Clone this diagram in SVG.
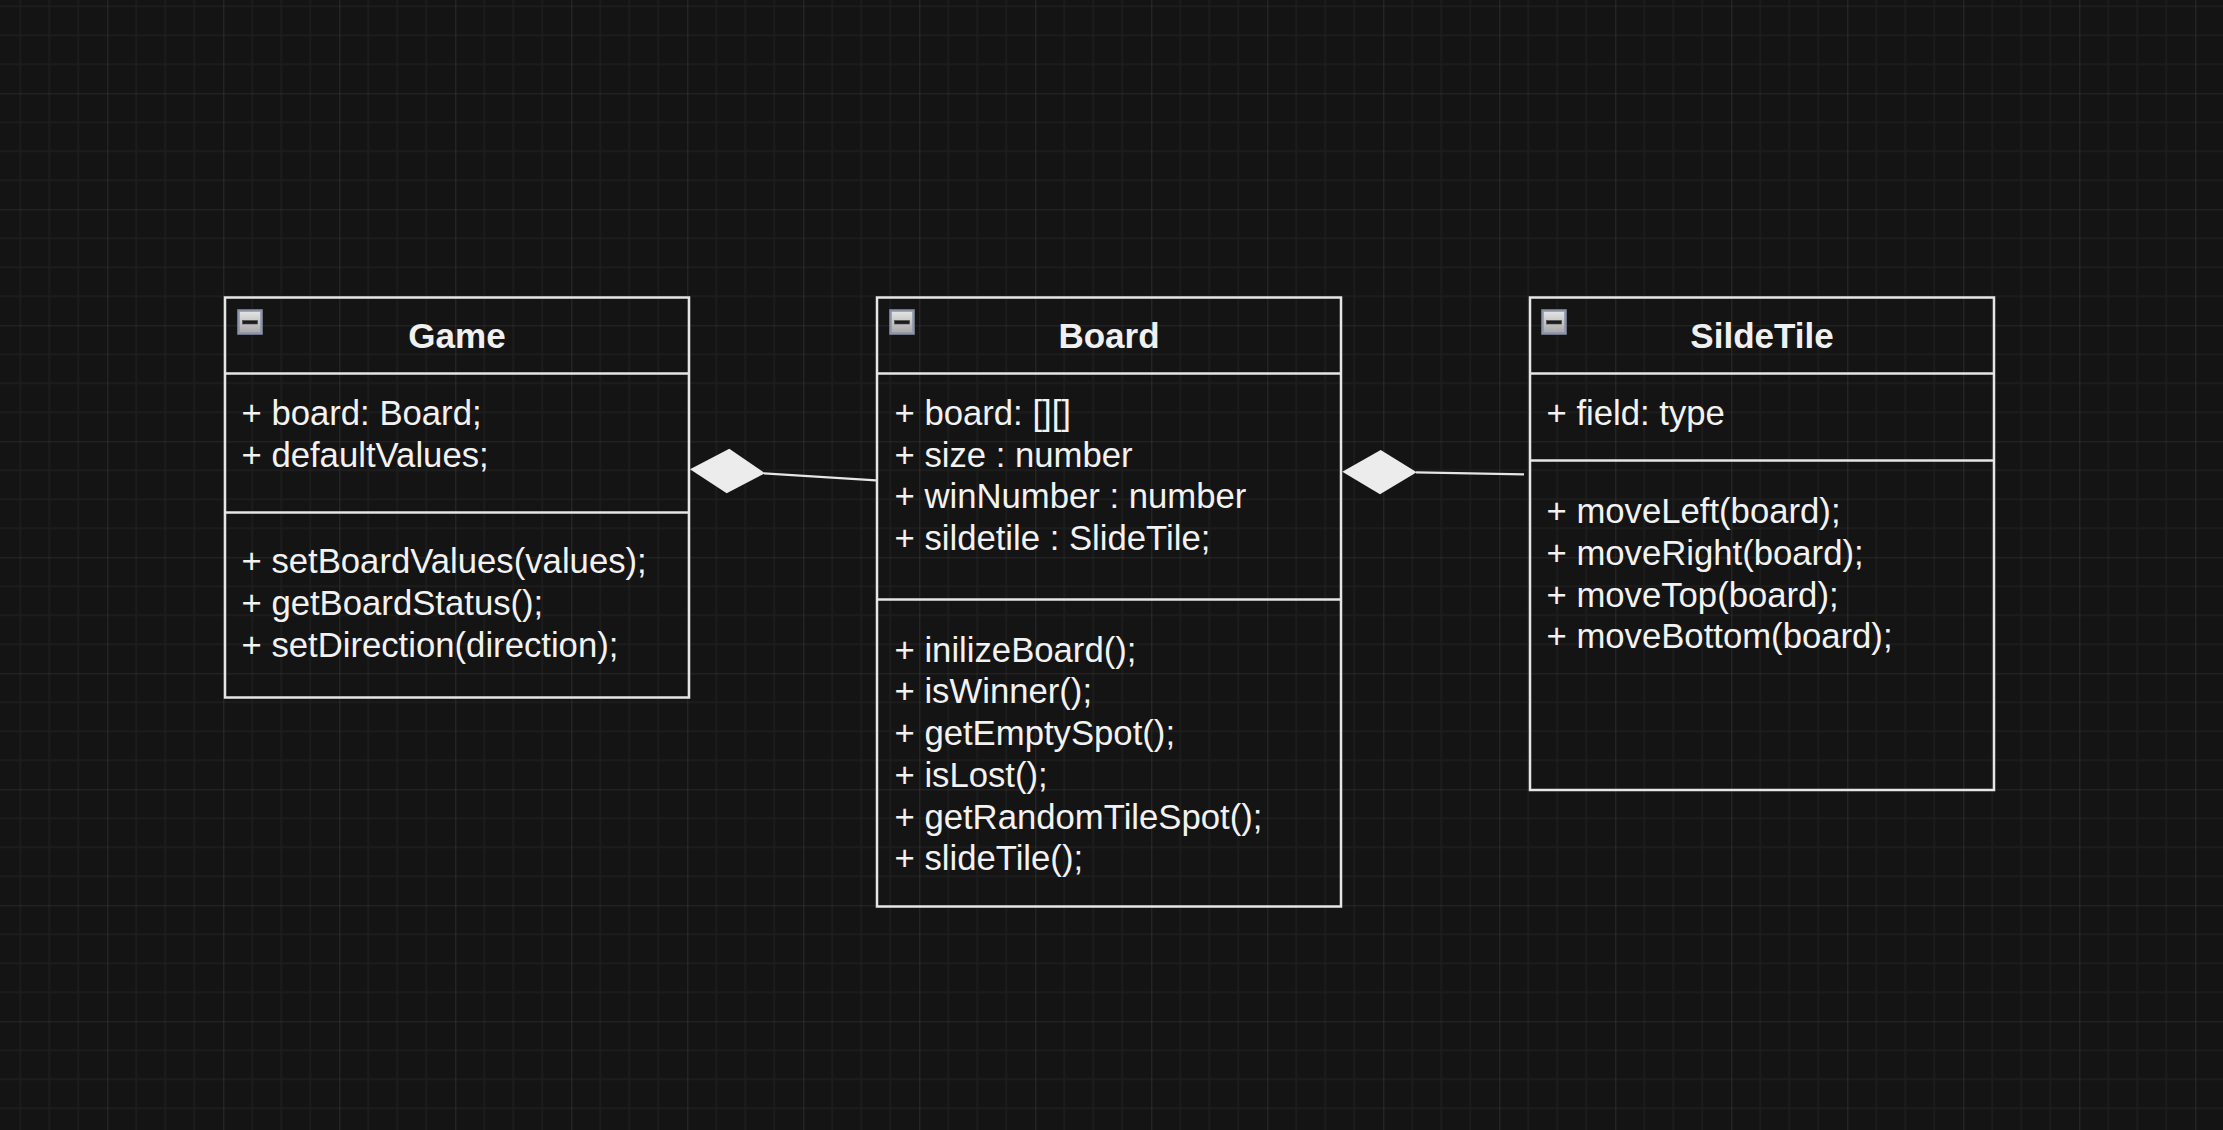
<svg xmlns="http://www.w3.org/2000/svg" width="2223" height="1130" viewBox="0 0 2223 1130">
  <style>
    .box { fill: none; stroke: #e6e6e6; stroke-width: 2.5; }
    .div { stroke: #e6e6e6; stroke-width: 2.5; }
    .title { font-family: "Liberation Sans", Arial, Helvetica, sans-serif; font-size: 35px; font-weight: bold; fill: #f0f0f0; text-anchor: middle; }
    .body { font-family: "Liberation Sans", Arial, Helvetica, sans-serif; font-size: 34.7px; fill: #f2f2f2; }
    .conn { stroke: #e6e6e6; stroke-width: 2.2; fill: none; }
    .dia { fill: #ececec; stroke: none; }
    .icon { stroke: #8c94a8; stroke-width: 2.5; fill: url(#iconGrad); }
    .minus { fill: #1c1c1c; stroke: #4a4a4a; stroke-width: 0.6; }
  </style>
  <defs>
    <pattern id="grid" x="107.3" y="93.3" width="116" height="116" patternUnits="userSpaceOnUse">
      <path d="M29 0V116M58 0V116M87 0V116M0 29H116M0 58H116M0 87H116" stroke="#1e1e1e" stroke-width="1.6" fill="none"/>
      <path d="M0 0V116M0 0H116" stroke="#3a3a3a" stroke-width="1.2" fill="none"/>
    </pattern>
    <linearGradient id="iconGrad" x1="0" y1="0" x2="0" y2="1">
      <stop offset="0" stop-color="#e6e6e6"/>
      <stop offset="1" stop-color="#a6a6a6"/>
    </linearGradient>
    <g id="collapse">
      <rect class="icon" x="0" y="0" width="23" height="23"/>
      <rect class="minus" x="4" y="10" width="15" height="3.5"/>
    </g>
  </defs>

  <rect x="0" y="0" width="2223" height="1130" fill="#141414"/>
  <rect x="0" y="0" width="2223" height="1130" fill="url(#grid)"/>

  <g id="connectors">
    <line class="conn" x1="764" y1="473.3" x2="876" y2="480.3"/>
    <polygon class="dia" points="690,469.3 729.3,448.7 765,473.3 726.7,493.3"/>
    <line class="conn" x1="1416" y1="472.4" x2="1524" y2="474.3"/>
    <polygon class="dia" points="1342.3,471.7 1380.7,450 1416.7,472.3 1380,494.3"/>
  </g>

  <g id="node-game">
    <rect class="box" x="225" y="297.5" width="464" height="400"/>
    <line class="div" x1="225" y1="373.5" x2="689" y2="373.5"/>
    <line class="div" x1="225" y1="512.5" x2="689" y2="512.5"/>
    <use href="#collapse" x="238.5" y="310.5"/>
    <text class="title" x="457" y="348">Game</text>
    <text class="body">
      <tspan x="241.5" y="425">+ board: Board;</tspan>
      <tspan x="241.5" y="466.5">+ defaultValues;</tspan>
      <tspan x="241.5" y="573">+ setBoardValues(values);</tspan>
      <tspan x="241.5" y="615">+ getBoardStatus();</tspan>
      <tspan x="241.5" y="657">+ setDirection(direction);</tspan>
    </text>
  </g>

  <g id="node-board">
    <rect class="box" x="877" y="297.5" width="464" height="609"/>
    <line class="div" x1="877" y1="373.5" x2="1341" y2="373.5"/>
    <line class="div" x1="877" y1="599.5" x2="1341" y2="599.5"/>
    <use href="#collapse" x="890.5" y="310.5"/>
    <text class="title" x="1109" y="348">Board</text>
    <text class="body">
      <tspan x="894.5" y="425">+ board: [][]</tspan>
      <tspan x="894.5" y="466.5">+ size : number</tspan>
      <tspan x="894.5" y="508">+ winNumber : number</tspan>
      <tspan x="894.5" y="549.5">+ sildetile : SlideTile;</tspan>
      <tspan x="894.5" y="661.5">+ inilizeBoard();</tspan>
      <tspan x="894.5" y="703">+ isWinner();</tspan>
      <tspan x="894.5" y="745">+ getEmptySpot();</tspan>
      <tspan x="894.5" y="786.5">+ isLost();</tspan>
      <tspan x="894.5" y="828.5">+ getRandomTileSpot();</tspan>
      <tspan x="894.5" y="870">+ slideTile();</tspan>
    </text>
  </g>

  <g id="node-sildetile">
    <rect class="box" x="1530" y="297.5" width="464" height="492.5"/>
    <line class="div" x1="1530" y1="373.5" x2="1994" y2="373.5"/>
    <line class="div" x1="1530" y1="460.5" x2="1994" y2="460.5"/>
    <use href="#collapse" x="1542.5" y="310.5"/>
    <text class="title" x="1762" y="348">SildeTile</text>
    <text class="body">
      <tspan x="1546.5" y="425">+ field: type</tspan>
      <tspan x="1546.5" y="522.5">+ moveLeft(board);</tspan>
      <tspan x="1546.5" y="564.5">+ moveRight(board);</tspan>
      <tspan x="1546.5" y="606.5">+ moveTop(board);</tspan>
      <tspan x="1546.5" y="648">+ moveBottom(board);</tspan>
    </text>
  </g>
</svg>
